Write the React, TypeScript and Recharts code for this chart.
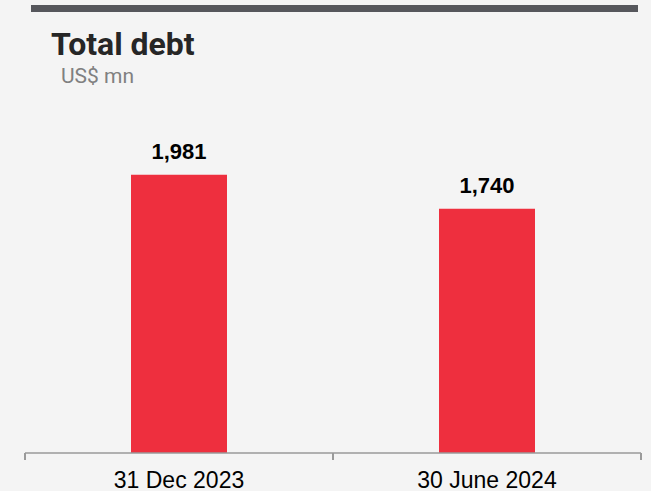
import { Bar, BarChart, LabelList, XAxis, YAxis } from 'recharts'

const categories = ['31 Dec 2023', '30 June 2024']
const totalDebt = [1981, 1740]

const data = categories.map((name, i) => ({ name, value: totalDebt[i] }))

const BG = '#f4f4f4'
const RED = '#ee2f3e'
const AXIS = '#9a9a9a'
const TICK_SIZE = 7
const TICK_MARGIN = 12

// category tick: label at the band centre, tick marks at the band edges
function BoundaryTick(props: any) {
  const { x, y, payload, index, visibleTicksCount } = props
  const half = payload?.offset ?? 154
  const axisY = y - TICK_SIZE - TICK_MARGIN
  const isLast = index === visibleTicksCount - 1
  return (
    <g>
      <line x1={x - half} x2={x - half} y1={axisY} y2={axisY + TICK_SIZE} stroke={AXIS} strokeWidth={2} />
      {isLast && (
        <line x1={x + half} x2={x + half} y1={axisY} y2={axisY + TICK_SIZE} stroke={AXIS} strokeWidth={2} />
      )}
      <text
        x={x}
        y={y}
        dy="0.71em"
        textAnchor="middle"
        fill="#000"
        fontSize={23}
        fontFamily="Liberation Sans, Arial, sans-serif"
      >
        {payload.value}
      </text>
    </g>
  )
}

export default function App() {
  return (
    <div style={{ position: 'absolute', left: 0, top: 0, width: 651, height: 491, background: BG }}>
      <BarChart width={651} height={491} data={data} margin={{ top: 102, right: 10, left: 25, bottom: 0 }}>
        <XAxis
          dataKey="name"
          height={38}
          axisLine={{ stroke: AXIS, strokeWidth: 1.5 }}
          tickLine={false}
          tickSize={TICK_SIZE}
          tickMargin={TICK_MARGIN}
          interval={0}
          tick={<BoundaryTick />}
        />
        <YAxis hide domain={[0, 2500]} />
        <Bar dataKey="value" fill={RED} barSize={96} isAnimationActive={false}>
          <LabelList
            dataKey="value"
            position="top"
            offset={16}
            formatter={(v: any) => Number(v).toLocaleString('en-US')}
            style={{ fill: '#000', fontSize: 22, fontWeight: 700, fontFamily: 'Liberation Sans, Arial, sans-serif' }}
          />
        </Bar>
      </BarChart>
      <svg width={651} height={491} style={{ position: 'absolute', left: 0, top: 0, pointerEvents: 'none' }}>
        <rect x={31} y={5} width={607} height={7} fill="#56575c" />
        <text x={51} y={55} fontFamily="Roboto, sans-serif" fontWeight={700} fontSize={32} fill="#262626">
          Total debt
        </text>
        <text x={61} y={83} fontFamily="Roboto, sans-serif" fontSize={21} fill="#808080">
          US$ mn
        </text>
      </svg>
    </div>
  )
}
